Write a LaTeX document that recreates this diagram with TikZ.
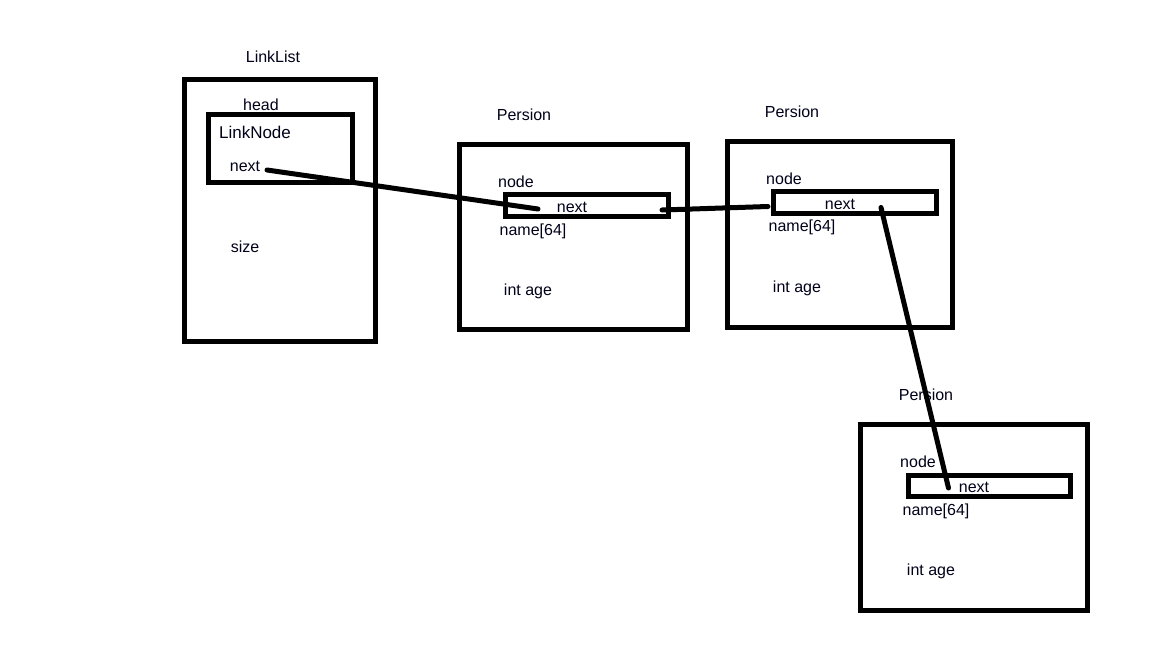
\documentclass[tikz,border=0pt]{standalone}
\usepackage{fontspec}
\setmainfont{Liberation Sans}
\begin{document}
\begin{tikzpicture}[x=1pt,y=-1pt,
  box/.style={draw=black,line width=5pt,rectangle,inner sep=0pt,outer sep=0pt},
  lbl/.style={inner sep=0pt,font=\fontsize{16}{19}\selectfont,text=black!90!blue},
  link/.style={line width=5pt,line cap=round,draw=black}]
\useasboundingbox (0,0) rectangle (1152,648);
\fill[white] (0,0) rectangle (1152,648);
% LinkList
\node[box,minimum width=191pt,minimum height=262pt] (ll) at (279.5,210) {};
\node[box,minimum width=144pt,minimum height=67.5pt] (ln) at (280,148.25) {};
\node[lbl] (lltitle) at (273,57) {LinkList};
\node[lbl] (head) at (261,105) {head};
\node[lbl,font=\fontsize{17}{20}\selectfont] (lnlabel) at (255,132) {LinkNode};
\node[lbl] (lnnext) at (245,166) {next};
\node[lbl] (size) at (245,247) {size};
% Persion 1
\node[box,minimum width=227.5pt,minimum height=184.5pt] (p1) at (573.25,236.75) {};
\node[box,minimum width=163pt,minimum height=21.5pt] (p1n) at (587,205.25) {};
\node[lbl] (p1t) at (524,115) {Persion};
\node[lbl] (p1node) at (516,182) {node};
\node[lbl] (p1next) at (572,207) {next};
\node[lbl] (p1name) at (533,231) {name[64]};
\node[lbl] (p1age) at (528,291) {int age};
% Persion 2
\node[box,minimum width=225.5pt,minimum height=186.5pt] (p2) at (839.75,234.25) {};
\node[box,minimum width=163pt,minimum height=22pt] (p2n) at (855,202.5) {};
\node[lbl] (p2t) at (792,112) {Persion};
\node[lbl] (p2node) at (784,179) {node};
\node[lbl] (p2next) at (840,204) {next};
\node[lbl] (p2name) at (802,227) {name[64]};
\node[lbl] (p2age) at (797,288) {int age};
% Persion 3
\node[box,minimum width=227pt,minimum height=186pt] (p3) at (974,517.5) {};
\node[box,minimum width=162.5pt,minimum height=21pt] (p3n) at (989.25,485.5) {};
\node[lbl] (p3t) at (926,395) {Persion};
\node[lbl] (p3node) at (918,462) {node};
\node[lbl] (p3next) at (974,487) {next};
\node[lbl] (p3name) at (936,511) {name[64]};
\node[lbl] (p3age) at (931,571) {int age};
% connector end points
\coordinate (a0) at (267,170);
\coordinate (a1) at (538,209);
\coordinate (b0) at (662,210);
\coordinate (b1) at (768,206.5);
\coordinate (c0) at (881,207.5);
\coordinate (c1) at (948.5,488);
\draw[link] (a0) -- (a1);
\draw[link] (b0) -- (b1);
\draw[link] (c0) -- (c1);
\end{tikzpicture}
\end{document}
